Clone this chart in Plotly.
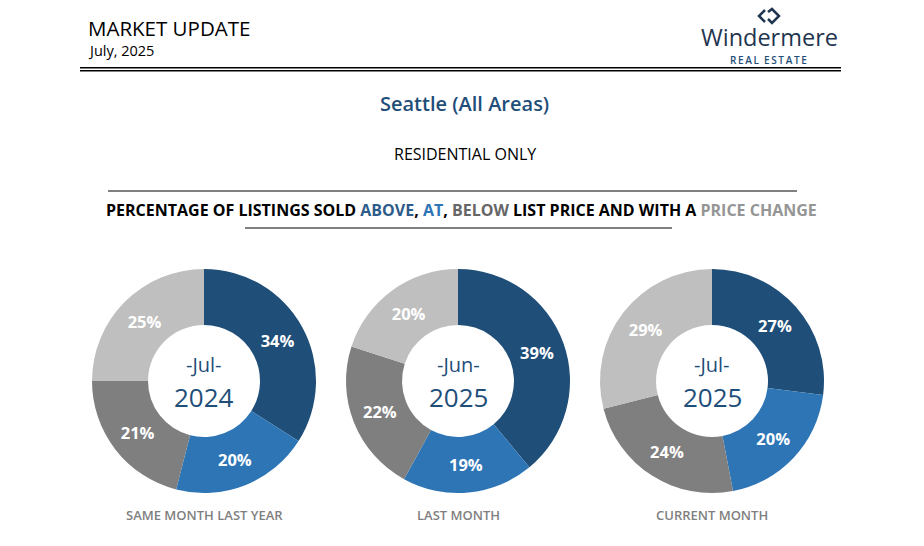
import plotly.graph_objects as go

W, H = 924, 546

categories = ["Above list price", "At list price", "Below list price", "Price change"]
colors = ["#1F4E79", "#2E75B6", "#7F7F7F", "#BFBFBF"]

period_labels = ["SAME MONTH LAST YEAR", "LAST MONTH", "CURRENT MONTH"]
period_month = ["-Jul-", "-Jun-", "-Jul-"]
period_year = ["2024", "2025", "2025"]
values_jul_2024 = [34, 20, 21, 25]
values_jun_2025 = [39, 19, 22, 20]
values_jul_2025 = [27, 20, 24, 29]
all_values = [values_jul_2024, values_jun_2025, values_jul_2025]

FONT = "Open Sans"

def px(x):
    return x / W

def py(y):
    return 1 - y / H

centers_x = [204, 458, 712]
center_y = 381
R = 112

fig = go.Figure()
for i, vals in enumerate(all_values):
    cx = centers_x[i]
    fig.add_trace(go.Pie(
        labels=categories,
        values=vals,
        text=[f"{v}%" for v in vals],
        textinfo="text",
        textposition="inside",
        insidetextorientation="horizontal",
        textfont=dict(family=FONT, size=16.5, color="white", weight="bold"),
        marker=dict(colors=colors, line=dict(width=0)),
        hole=0.5,
        sort=False,
        direction="clockwise",
        rotation=0,
        showlegend=False,
        domain=dict(x=[px(cx - R), px(cx + R)], y=[py(center_y + R), py(center_y - R)]),
        hoverinfo="label+text",
    ))

annotations = []

def add_text(x, y, text, size, color="#000000", xanchor="center", weight="normal", family=FONT):
    annotations.append(dict(
        x=px(x), y=py(y), xref="paper", yref="paper", text=text, showarrow=False,
        xanchor=xanchor, yanchor="middle",
        font=dict(family=family, size=size, color=color, weight=weight),
    ))

# Header
add_text(86, 28, "MARKET UPDATE", 20.5, xanchor="left")
add_text(86, 50, "July, 2025", 14.5, xanchor="left")

# Logo text
add_text(769, 37, "Windermere", 23.5, color="#1F3550")
real_estate = "\u2009".join("REAL") + "\u2009\u2009\u2009" + "\u2009".join("ESTATE")
add_text(768, 59.5, real_estate, 10, color="#1F4E79", weight=600)

add_text(464, 103, "Seattle (All Areas)", 20, color="#1F4E79", weight=600)
add_text(465, 154, "RESIDENTIAL ONLY", 16)

title_html = ("PERCENTAGE OF LISTINGS SOLD "
              "<span style='color:#2E5C8A'>ABOVE</span>, "
              "<span style='color:#2E75B6'>AT</span>, "
              "<span style='color:#666666'>BELOW</span> "
              "LIST PRICE AND WITH A "
              "<span style='color:#959595'>PRICE CHANGE</span>")
add_text(461, 210, title_html, 16, weight="bold")

for i in range(3):
    cx = centers_x[i]
    add_text(cx, 364, period_month[i], 20, color="#1F4E79")
    add_text(cx, 397, period_year[i], 26, color="#1F4E79")
    add_text(cx, 515, period_labels[i], 13, color="#7F7F7F", weight=600)

shapes = []

def hline(x0, x1, y, color, width):
    shapes.append(dict(type="line", xref="paper", yref="paper",
                       x0=px(x0), x1=px(x1), y0=py(y), y1=py(y),
                       line=dict(color=color, width=width)))

hline(80, 841, 67.7, "#000000", 1.5)
hline(80, 841, 70.8, "#000000", 1.5)
hline(108, 797, 191, "#808080", 2)
hline(245, 672, 228, "#808080", 2)

# Logo icon: two interlocking chevrons
def path(points):
    return "M " + " L ".join(f"{px(x):.5f},{py(y):.5f}" for x, y in points)

shapes.append(dict(type="path", xref="paper", yref="paper",
                   path=path([(765, 10), (759, 16), (765, 22)]),
                   line=dict(color="#1F3550", width=2.5)))
shapes.append(dict(type="path", xref="paper", yref="paper",
                   path=path([(768, 12), (772, 9), (779, 16), (772, 23), (768, 19)]),
                   line=dict(color="#1F3550", width=2.5)))

fig.update_layout(
    width=W, height=H,
    margin=dict(l=0, r=0, t=0, b=0),
    paper_bgcolor="white", plot_bgcolor="white",
    annotations=annotations, shapes=shapes,
    font=dict(family=FONT),
)

fig.write_html("out.html", config={"displayModeBar": False},
               post_script="document.body.style.margin='0';")
